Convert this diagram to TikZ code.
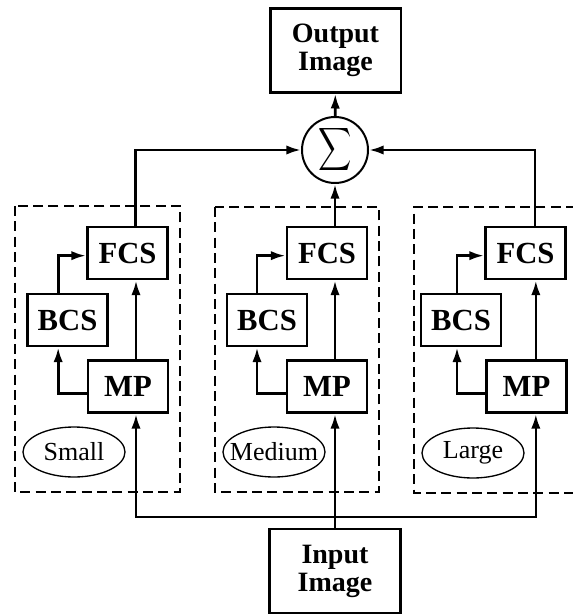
\documentclass[tikz,border=0pt]{standalone}
\usepackage{fontspec}
\setmainfont{Liberation Serif}
\usepackage{graphicx}
\usetikzlibrary{arrows.meta,shapes.geometric}

\tikzset{every picture/.style={line width=0.75pt}}
\tikzset{
  blk/.style={draw, line width=2.2pt, inner sep=0pt, minimum width=60pt, minimum height=39pt, font=\fontsize{23}{25}\selectfont\bfseries},
  io/.style={draw, line width=2pt, inner sep=0pt, minimum width=98pt, minimum height=63pt, align=center, font=\fontsize{21}{21}\selectfont\bfseries},
  scl/.style={draw, ellipse, line width=1pt, inner sep=0pt, minimum width=76.5pt, minimum height=37.5pt, font=\fontsize{19.5}{19.5}\selectfont},
  arr/.style={line width=2pt, -{Latex[length=11pt,width=7pt]}},
  grp/.style={line width=1.2pt, dash pattern=on 7.5pt off 4pt}
}

\begin{document}
\begin{tikzpicture}[x=0.75pt,y=0.75pt,yscale=-1,xscale=1]
\useasboundingbox (0,0) rectangle (572,616);

% groups
\draw [grp] (15,206) rectangle (180,492) ;
\draw [grp] (215,207) rectangle (379,492) ;
\draw [grp] (576,207) -- (414,207) -- (414,493) -- (576,493) ;

\node [io] (out) at (335.5,50.5) {Output\\Image};
\node [draw, circle, line width=1.5pt, inner sep=0pt, minimum size=49.5pt] (sum) at (335,150) {\resizebox*{25pt}{36pt}{$\displaystyle\sum$}};

\node [blk] (fcsS) at (127.5,253) {FCS};
\node [blk] (bcsS) at (67.5,320) {BCS};
\node [blk] (mpS) at (128,386.5) {MP};
\node [scl] (sclS) at (74,452) {\makebox[0pt]{Small}};

\node [blk] (fcsM) at (327,253) {FCS};
\node [blk] (bcsM) at (267,320) {BCS};
\node [blk] (mpM) at (327,386.5) {MP};
\node [scl] (sclM) at (274,452) {\makebox[0pt]{Medium}};

\node [blk] (fcsL) at (525.5,253) {FCS};
\node [blk] (bcsL) at (461,320) {BCS};
\node [blk] (mpL) at (526.5,386.5) {MP};
\node [scl] (sclL) at (473,453) {\makebox[0pt]{Large}};

\node [io] (in) at (335,571) {Input\\Image};
\coordinate (bus) at (335,517);

% to the sum and out
\draw [arr] (sum) -- (out) ;
\draw [arr] ([xshift=6pt]fcsS.north) |- (sum.west) ;
\draw [arr] (fcsM.north -| sum) -- (sum.south) ;
\draw [arr] ([xshift=7pt]fcsL.north) |- (sum.east) ;

% small
\draw [arr] ([xshift=6pt]mpS.north) -- ([xshift=6pt]mpS.north |- fcsS.south) ;
\draw [arr] ([yshift=5pt]mpS.west) -| ([xshift=-7pt]bcsS.south) ;
\draw [arr] ([xshift=-7pt]bcsS.north) |- ([yshift=2pt]fcsS.west) ;

% medium
\draw [arr] ([xshift=6pt]mpM.north) -- ([xshift=6pt]mpM.north |- fcsM.south) ;
\draw [arr] ([yshift=5pt]mpM.west) -| ([xshift=-7.5pt]bcsM.south) ;
\draw [arr] ([xshift=-7.5pt]bcsM.north) |- ([yshift=2pt]fcsM.west) ;

% large
\draw [arr] ([xshift=7pt]mpL.north) -- ([xshift=7pt]mpL.north |- fcsL.south) ;
\draw [arr] ([yshift=5pt]mpL.west) -| ([xshift=-3pt]bcsL.south) ;
\draw [arr] ([xshift=-3pt]bcsL.north) |- ([yshift=2pt]fcsL.west) ;

% input
\draw [arr] (in.north) -- (in.north |- mpM.south) ;
\draw [arr] (bus) -| ([xshift=6pt]mpS.south) ;
\draw [arr] (bus) -| ([xshift=7pt]mpL.south) ;

\end{tikzpicture}
\end{document}
